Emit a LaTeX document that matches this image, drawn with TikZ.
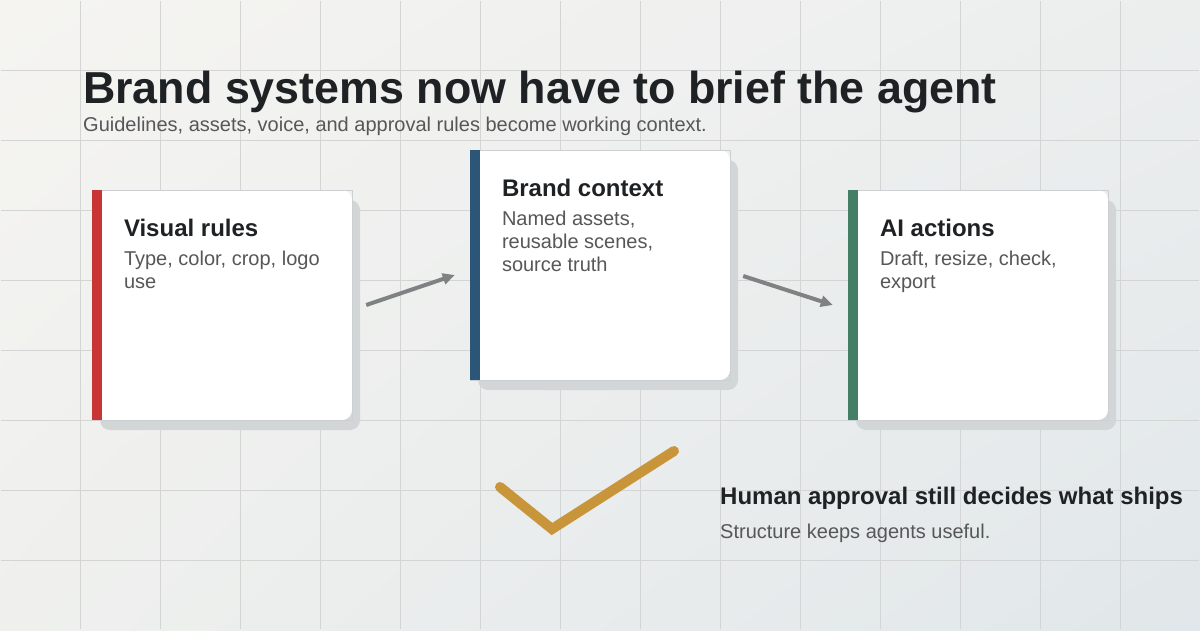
\documentclass[tikz,border=0pt]{standalone}
\usepackage{fontspec}
\setmainfont{Liberation Sans}
\usetikzlibrary{arrows.meta,shadows,shadings}

\definecolor{bgwarm}{HTML}{F5F4F1}
\definecolor{bgtop}{HTML}{ECEEEE}
\definecolor{bglow}{HTML}{EFF0EE}
\definecolor{bgcool}{HTML}{E1E7EA}
\definecolor{gridgray}{HTML}{D3D5D5}
\definecolor{inkdark}{HTML}{1F2224}
\definecolor{inkgray}{HTML}{555758}
\definecolor{cardshadow}{HTML}{D3D6D7}
\definecolor{cardline}{HTML}{CDD0D2}
\definecolor{barred}{HTML}{C83535}
\definecolor{barblue}{HTML}{2B5677}
\definecolor{bargreen}{HTML}{437E66}
\definecolor{arrowgray}{HTML}{7F8283}
\definecolor{tickgold}{HTML}{C9953A}

\begin{document}
\begin{tikzpicture}[x=1pt,y=-1pt,
  cardbox/.style={fill=white,rounded corners=10pt,minimum width=260pt,minimum height=230pt,inner sep=0pt,
    general shadow={fill=cardshadow,shadow xshift=8pt,shadow yshift=-10pt}},
  cardtitle/.style={anchor=base west,inner sep=0pt,text=inkdark,font=\fontsize{24}{28}\selectfont\bfseries},
  cardbody/.style={anchor=north west,inner sep=0pt,align=left,text=inkgray,font=\fontsize{20}{23}\selectfont},
  flow/.style={draw=arrowgray,line width=4pt,-{Triangle[length=12pt,width=11pt]}}]

% background and grid
\shade[upper left=bgwarm,upper right=bgtop,lower left=bglow,lower right=bgcool] (0,0) rectangle (1200,630);
\draw[gridgray,line width=0.8pt,xstep=80pt,ystep=70pt] (1,1) grid (1199,629);

% heading
\node[anchor=base west,inner sep=0pt,text=inkdark,font=\fontsize{44.8}{50}\selectfont\bfseries] (headline) at (83,103) {Brand systems now have to brief the agent};
\node[anchor=base west,inner sep=0pt,text=inkgray,font=\fontsize{20}{23}\selectfont] (subline) at (83,131) {Guidelines, assets, voice, and approval rules become working context.};

% three cards
\node[cardbox] (visual) at (222,305) {};
\draw[cardline,line width=0.6pt] (visual.north west) rectangle (visual.south east);
\fill[barred] (visual.north west) rectangle ([xshift=10pt]visual.south west);
\node[cardtitle] (visualtitle) at ([xshift=32pt,yshift=-47pt]visual.north west) {Visual rules};
\node[cardbody] (visualtext) at ([xshift=32pt,yshift=-61.5pt]visual.north west) {Type, color, crop, logo\\use};

\node[cardbox] (context) at (600,265) {};
\draw[cardline,line width=0.6pt] (context.north west) rectangle (context.south east);
\fill[barblue] (context.north west) rectangle ([xshift=10pt]context.south west);
\node[cardtitle] (contexttitle) at ([xshift=32pt,yshift=-47pt]context.north west) {Brand context};
\node[cardbody] (contexttext) at ([xshift=32pt,yshift=-61.5pt]context.north west) {Named assets,\\reusable scenes,\\source truth};

\node[cardbox] (actions) at (978,305) {};
\draw[cardline,line width=0.6pt] (actions.north west) rectangle (actions.south east);
\fill[bargreen] (actions.north west) rectangle ([xshift=10pt]actions.south west);
\node[cardtitle] (actionstitle) at ([xshift=32pt,yshift=-47pt]actions.north west) {AI actions};
\node[cardbody] (actionstext) at ([xshift=32pt,yshift=-61.5pt]actions.north west) {Draft, resize, check,\\export};

% arrows between cards
\draw[flow] ([xshift=14pt]visual.east) -- ([xshift=-15pt,yshift=-10pt]context.west);
\draw[flow] ([xshift=13pt,yshift=-11pt]context.east) -- ([xshift=-15pt]actions.west);

% approval tick
\draw[tickgold,line width=10pt,line cap=round,line join=miter] (500,487) -- (552,529) -- (674,451);

\node[anchor=base west,inner sep=0pt,text=inkdark,font=\fontsize{24}{28}\selectfont\bfseries] (approval) at (720,504) {Human approval still decides what ships};
\node[anchor=base west,inner sep=0pt,text=inkgray,font=\fontsize{20}{23}\selectfont] (approvalnote) at (720,538) {Structure keeps agents useful.};

\end{tikzpicture}
\end{document}
